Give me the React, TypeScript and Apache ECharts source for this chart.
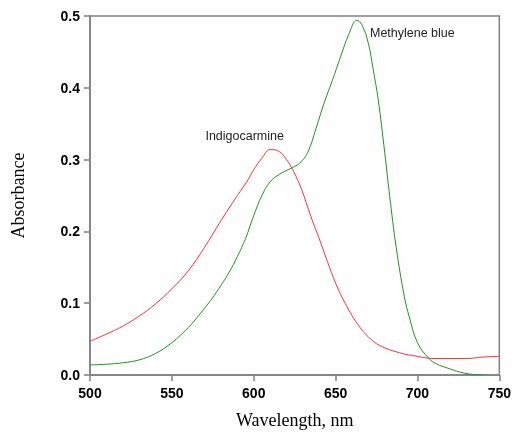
import React, { useEffect, useRef } from "react";
import * as echarts from "echarts";

const indigoX = [500, 510, 520, 530, 540, 550, 560, 570, 580, 590, 596, 600, 605, 610, 615, 620, 624, 629, 635, 640, 645, 650, 654, 660, 665, 670, 677, 689, 700, 710, 720, 730, 740, 750];
const indigoY = [0.047, 0.057, 0.068, 0.082, 0.099, 0.12, 0.145, 0.178, 0.215, 0.25, 0.27, 0.286, 0.302, 0.314, 0.312, 0.3, 0.285, 0.26, 0.22, 0.19, 0.158, 0.128, 0.108, 0.083, 0.066, 0.053, 0.041, 0.031, 0.026, 0.023, 0.023, 0.023, 0.025, 0.026];

const mbX = [500, 510, 520, 530, 540, 550, 560, 565, 570, 575, 580, 585, 590, 595, 600, 605, 610, 616, 622, 628, 633, 638, 643, 648, 653, 658, 663, 666, 670, 673, 676, 680, 683, 687, 692, 695, 700, 707, 712, 718, 726, 733, 740];
const mbY = [0.014, 0.015, 0.017, 0.021, 0.03, 0.045, 0.066, 0.079, 0.093, 0.108, 0.125, 0.143, 0.165, 0.19, 0.222, 0.25, 0.269, 0.28, 0.287, 0.295, 0.31, 0.343, 0.379, 0.41, 0.443, 0.474, 0.494, 0.488, 0.462, 0.425, 0.384, 0.31, 0.25, 0.178, 0.109, 0.081, 0.045, 0.023, 0.015, 0.01, 0.004, 0.001, 0.0];

const labelMB = { text: "Methylene blue", x: 671, y: 0.477 };
const labelIC = { text: "Indigocarmine", x: 570.5, y: 0.333 };

const pairs = (xs: number[], ys: number[]) => xs.map((x, i) => [x, ys[i]]);

export default function App() {
  const ref = useRef<HTMLDivElement>(null);
  useEffect(() => {
    if (!ref.current) return;
    const chart = echarts.init(ref.current, undefined, { renderer: "svg" });
    const axisGray = "#808080";
    const labelFont = { color: "#000", fontWeight: "bold" as const, fontSize: 14, fontFamily: "Liberation Sans, Arial, sans-serif" };
    const annot = (l: { text: string; x: number; y: number }) => ({
      symbol: "circle",
      symbolSize: 0,
      silent: true,
      data: [{ coord: [l.x, l.y], value: l.text }],
      label: {
        show: true,
        position: "right",
        distance: 0,
        formatter: l.text,
        color: "#222",
        fontSize: 12.5,
        fontFamily: "Liberation Sans, Arial, sans-serif",
      },
    });
    chart.setOption({
      animation: false,
      grid: { left: 90, right: 14, top: 16, bottom: 55, show: true, borderColor: axisGray, borderWidth: 1.5, backgroundColor: "transparent" },
      xAxis: {
        type: "value",
        min: 500,
        max: 750,
        interval: 50,
        name: "Wavelength, nm",
        nameLocation: "middle",
        nameGap: 36,
        nameTextStyle: { fontFamily: "Liberation Serif, Times New Roman, serif", fontSize: 18, color: "#000" },
        axisLine: { show: true, lineStyle: { color: axisGray, width: 1.5 } },
        axisTick: { show: true, length: 6, lineStyle: { color: axisGray, width: 1.5 } },
        axisLabel: { ...labelFont, margin: 11 },
        splitLine: { show: false },
      },
      yAxis: {
        type: "value",
        min: 0,
        max: 0.5,
        interval: 0.1,
        name: "Absorbance",
        nameLocation: "middle",
        nameGap: 63,
        nameTextStyle: { fontFamily: "Liberation Serif, Times New Roman, serif", fontSize: 18, color: "#000" },
        axisLine: { show: true, lineStyle: { color: axisGray, width: 1.5 } },
        axisTick: { show: true, length: 6, lineStyle: { color: axisGray, width: 1.5 } },
        axisLabel: { ...labelFont, margin: 10, formatter: (v: number) => v.toFixed(1) },
        splitLine: { show: false },
      },
      series: [
        {
          type: "line",
          data: pairs(indigoX, indigoY),
          smooth: 0.4,
          symbol: "none",
          lineStyle: { color: "#ff3030", width: 1 },
          markPoint: annot(labelIC),
        },
        {
          type: "line",
          data: pairs(mbX, mbY),
          smooth: 0.4,
          symbol: "none",
          lineStyle: { color: "#1e951e", width: 1 },
          markPoint: annot(labelMB),
        },
      ],
    });
    return () => chart.dispose();
  }, []);
  return <div ref={ref} style={{ position: "fixed", left: 0, top: 0, width: 514, height: 434 }} />;
}
